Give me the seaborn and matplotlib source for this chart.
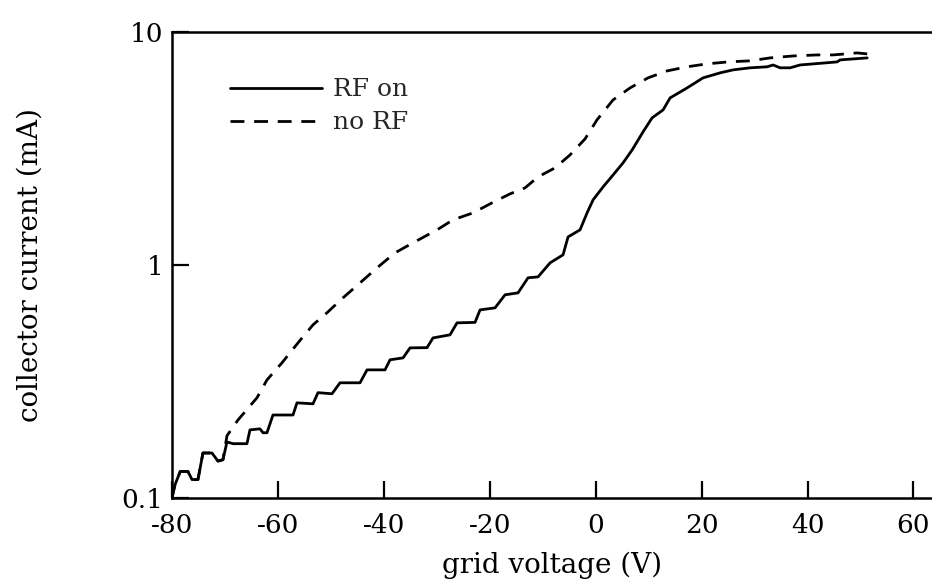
import matplotlib
matplotlib.use("Agg")
import matplotlib.pyplot as plt
import seaborn as sns
import pandas as pd

# RF on (solid)
rf_on_v = [-80.0, -79.43, -78.43, -76.98, -76.22, -75.09, -74.15, -72.45, -71.31, -70.37,
           -69.61, -68.48, -65.84, -65.27, -63.38, -62.81, -62.06, -60.93, -57.15, -56.39,
           -53.37, -52.43, -49.78, -48.27, -44.49, -43.17, -39.77, -38.83, -36.37, -35.05,
           -31.84, -30.71, -27.5, -26.18, -22.78, -21.83, -19.0, -17.11, -14.66, -12.77,
           -10.88, -8.61, -6.16, -5.21, -2.95, -1.62, -0.49, 1.4, 3.29, 5.18,
           6.88, 8.95, 10.65, 12.73, 14.05, 17.26, 20.28, 23.5, 25.95, 29.16,
           32.37, 33.5, 34.83, 36.71, 38.6, 45.59, 46.16, 51.26]
rf_on_i = [0.100, 0.114, 0.130, 0.130, 0.120, 0.120, 0.156, 0.156, 0.144, 0.146,
           0.174, 0.171, 0.171, 0.196, 0.198, 0.1905, 0.1905, 0.227, 0.227, 0.256,
           0.2535, 0.283, 0.280, 0.312, 0.312, 0.3545, 0.3545, 0.3915, 0.399, 0.4405,
           0.4415, 0.486, 0.501, 0.564, 0.5665, 0.641, 0.654, 0.744, 0.7585, 0.880,
           0.888, 1.02, 1.104, 1.318, 1.413, 1.671, 1.90, 2.16, 2.43, 2.74,
           3.11, 3.72, 4.27, 4.62, 5.20, 5.74, 6.34, 6.66, 6.86, 7.00,
           7.07, 7.20, 7.00, 7.00, 7.20, 7.42, 7.57, 7.72]

# no RF (dashed)
no_rf_v = [-80.0, -79.43, -78.43, -76.98, -76.22, -75.09, -74.15, -72.45, -71.31, -70.37,
           -69.61, -67.54, -63.95, -62.06, -59.23, -56.2, -53.37, -50.73, -47.71, -44.49,
           -41.28, -37.89, -34.49, -29.95, -26.93, -23.15, -19.57, -16.17, -13.33, -10.88,
           -7.67, -4.83, -2.0, 0.26, 3.29, 6.5, 9.9, 13.48, 17.26, 21.04,
           25.0, 29.16, 32.94, 37.28, 41.81, 44.83, 49.36, 51.26]
no_rf_i = [0.100, 0.114, 0.130, 0.130, 0.120, 0.120, 0.156, 0.156, 0.144, 0.146,
           0.185, 0.216, 0.269, 0.321, 0.380, 0.463, 0.553, 0.623, 0.722, 0.837,
           0.971, 1.126, 1.243, 1.413, 1.56, 1.671, 1.845, 2.016, 2.139, 2.384,
           2.606, 2.963, 3.47, 4.19, 5.10, 5.74, 6.34, 6.79, 7.07, 7.28,
           7.42, 7.50, 7.72, 7.87, 7.95, 7.95, 8.11, 8.03]

x_ticks = [-80, -60, -40, -20, 0, 20, 40, 60]
y_ticks = [0.1, 1, 10]
y_tick_labels = ["0.1", "1", "10"]

sns.set_theme(style="white")
plt.rcParams['font.family'] = ['DejaVu Serif']

fig = plt.figure(figsize=(9.32, 5.87), dpi=100)
ax = fig.add_axes([0.1845, 0.1516, 0.8155, 0.7944])

df_on = pd.DataFrame({"v": rf_on_v, "i": rf_on_i})
df_no = pd.DataFrame({"v": no_rf_v, "i": no_rf_i})

sns.lineplot(data=df_on, x="v", y="i", ax=ax, color="black", linewidth=2.0,
             sort=False, label="RF on")
sns.lineplot(data=df_no, x="v", y="i", ax=ax, color="black", linewidth=2.0,
             sort=False, label="no RF", dashes=False)
ax.lines[1].set_dashes((5, 3.5))

ax.set_yscale("log")
ax.set_xlim(-80, 63.5)
ax.set_ylim(0.1, 10)
ax.set_xticks(x_ticks)
ax.set_xticklabels([str(t) for t in x_ticks])
ax.set_yticks(y_ticks)
ax.set_yticklabels(y_tick_labels)
ax.yaxis.set_minor_locator(matplotlib.ticker.NullLocator())

for side in ["left", "top", "bottom"]:
    ax.spines[side].set_visible(True)
    ax.spines[side].set_color("black")
    ax.spines[side].set_linewidth(1.8)
ax.spines["right"].set_visible(False)

ax.tick_params(axis="both", direction="in", length=12, width=1.6, colors="black",
               labelsize=19)
ax.tick_params(axis="x", bottom=True, top=False, pad=11)
ax.tick_params(axis="y", left=True, right=False, pad=6)

ax.set_xlabel("grid voltage (V)", fontsize=20, color="black")
ax.set_ylabel("collector current (mA)", fontsize=20, color="black")
ax.xaxis.set_label_coords(0.5, -0.144)
ax.yaxis.set_label_coords(-0.187, 0.5)
ax.xaxis.label.set_verticalalignment("center")
ax.yaxis.label.set_verticalalignment("center")

leg = ax.legend(loc="upper left", bbox_to_anchor=(0.076, 0.9), frameon=False,
                fontsize=18, handlelength=3.7, handletextpad=0.45, labelspacing=0.4,
                borderpad=0, borderaxespad=0)
for h in leg.get_lines():
    h.set_linewidth(2.0)
leg.get_lines()[1].set_dashes((5, 3.5))

fig.savefig("out.png", dpi=100)
